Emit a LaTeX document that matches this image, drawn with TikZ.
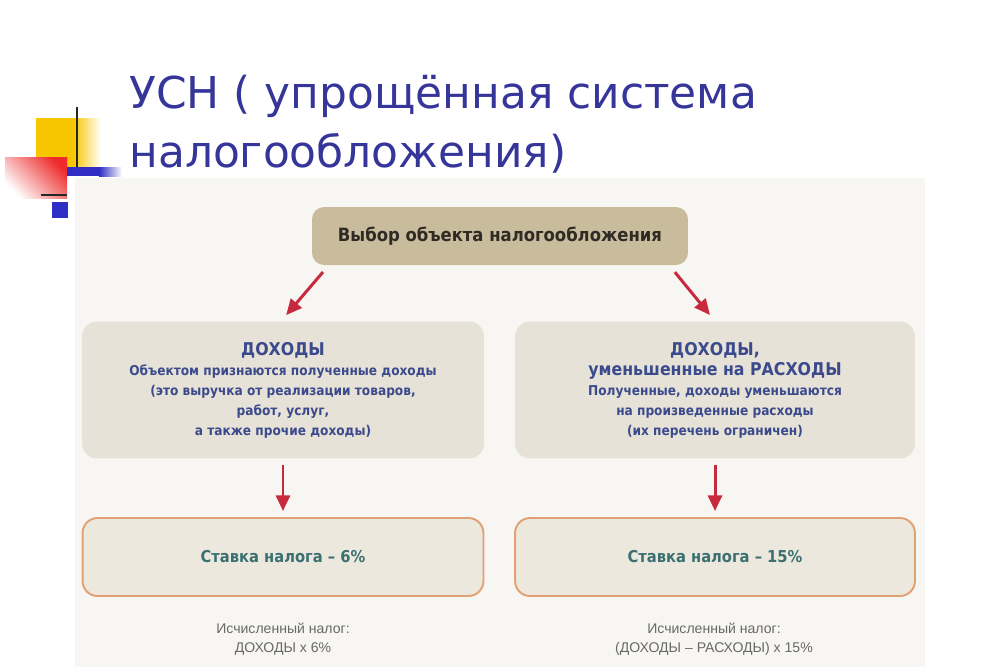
\documentclass[tikz,border=0pt]{standalone}
\usepackage{fontspec}
\setmainfont{DejaVu Sans}
\newfontfamily\boxfont{DejaVu Sans Condensed}
\newfontfamily\notefont{Liberation Sans}
\usetikzlibrary{arrows.meta,calc}

\definecolor{titleblue}{HTML}{35359A}
\definecolor{panelgray}{HTML}{F7F6F3}
\definecolor{decoyellow}{HTML}{F7C600}
\definecolor{decored}{HTML}{EE2A2A}
\definecolor{decoblue}{HTML}{2E2EC4}
\definecolor{choicetan}{HTML}{C9BC9D}
\definecolor{choicetext}{HTML}{2E2A24}
\definecolor{incomefill}{HTML}{E6E2D7}
\definecolor{incometext}{HTML}{3B4A8C}
\definecolor{ratefill}{HTML}{ECE8DE}
\definecolor{rateborder}{HTML}{E1A172}
\definecolor{ratetext}{HTML}{3A7070}
\definecolor{notegray}{HTML}{686868}
\definecolor{arrowred}{HTML}{C72A3C}

\tikzset{
  titletext/.style={text=titleblue, font=\fontsize{25}{30}\selectfont, inner sep=0pt},
  choicebox/.style={fill=choicetan, rounded corners=0.24cm, minimum width=7.52cm,
    minimum height=1.16cm, text=choicetext, font=\boxfont\bfseries\fontsize{10.4}{12}\selectfont},
  incomebox/.style={fill=incomefill, rounded corners=0.3cm, minimum height=2.74cm,
    align=center, text=incometext, font=\boxfont\bfseries\fontsize{7.7}{11.4}\selectfont},
  ratebox/.style={fill=ratefill, draw=rateborder, line width=1.1pt, rounded corners=0.3cm,
    minimum height=1.56cm, text=ratetext, font=\boxfont\bfseries\fontsize{9.3}{11}\selectfont},
  notetext/.style={align=center, text=notegray, font=\notefont\fontsize{8}{10.8}\selectfont},
  redarrow/.style={draw=arrowred, line width=1.7pt, -{Triangle[length=9pt,width=8pt]}}
}
\newcommand{\headline}[1]{{\fontsize{10}{12}\selectfont #1}}

\begin{document}
\begin{tikzpicture}[x=0.02cm,y=-0.02cm]
\useasboundingbox (0,0) rectangle (1000,667);
\fill[panelgray] (75,178) rectangle (925,667);

% corner decoration
\fill[decoyellow] (36,118) rectangle (74,170);
\shade[left color=decoyellow, right color=white] (73,118) rectangle (101,170);
\shade[top color=decored, bottom color=white, shading angle=-45] (5,157) rectangle (67,198);
\draw[line width=1.7pt, black!85] (77,107) -- (77,175);
\fill[decoblue] (67,167) rectangle (100,176);
\shade[left color=decoblue, right color=white] (99,167) rectangle (122,176);
\draw[line width=1.4pt, black!85] (41,195) -- (67,195);
\fill[decoblue] (52,202) rectangle (68,218);

% title
\node[titletext, anchor=base west] (title1) at (129,108) {УСН ( упрощённая система};
\node[titletext, anchor=base west] (title2) at (129,167) {налогообложения)};

% boxes
\node[choicebox] (choice) at (500,236) {Выбор объекта налогообложения};

\node[incomebox, minimum width=8.04cm] (inc) at (283,390)
  {\headline{ДОХОДЫ}\\ Объектом признаются полученные доходы\\
   (это выручка от реализации товаров,\\ работ, услуг,\\ а также прочие доходы)};
\node[incomebox, minimum width=8cm] (exp) at (715,390)
  {\headline{ДОХОДЫ,}\\ \headline{уменьшенные на РАСХОДЫ}\\ Полученные, доходы уменьшаются\\
   на произведенные расходы\\ (их перечень ограничен)};

\node[ratebox, minimum width=8.02cm] (rate6) at (283,557) {Ставка налога – 6\%};
\node[ratebox, minimum width=8cm] (rate15) at (715,557) {Ставка налога – 15\%};

\node[notetext] (note6) at (283,639) {Исчисленный налог:\\ ДОХОДЫ х 6\%};
\node[notetext] (note15) at (714,639) {Исчисленный налог:\\ (ДОХОДЫ – РАСХОДЫ) х 15\%};

% arrows
\draw[redarrow, shorten <=5pt, shorten >=4.5pt] ($(choice.south west)+(17,0)$) -- ($(inc.north)+(-2,0)$);
\draw[redarrow, shorten <=5pt, shorten >=4.5pt] ($(choice.south east)+(-19,0)$) -- (exp.north);
\draw[redarrow, shorten <=3.4pt, shorten >=3.4pt] (inc) -- (rate6);
\draw[redarrow, shorten <=3.4pt, shorten >=3.4pt] (exp) -- (rate15);
\end{tikzpicture}
\end{document}
